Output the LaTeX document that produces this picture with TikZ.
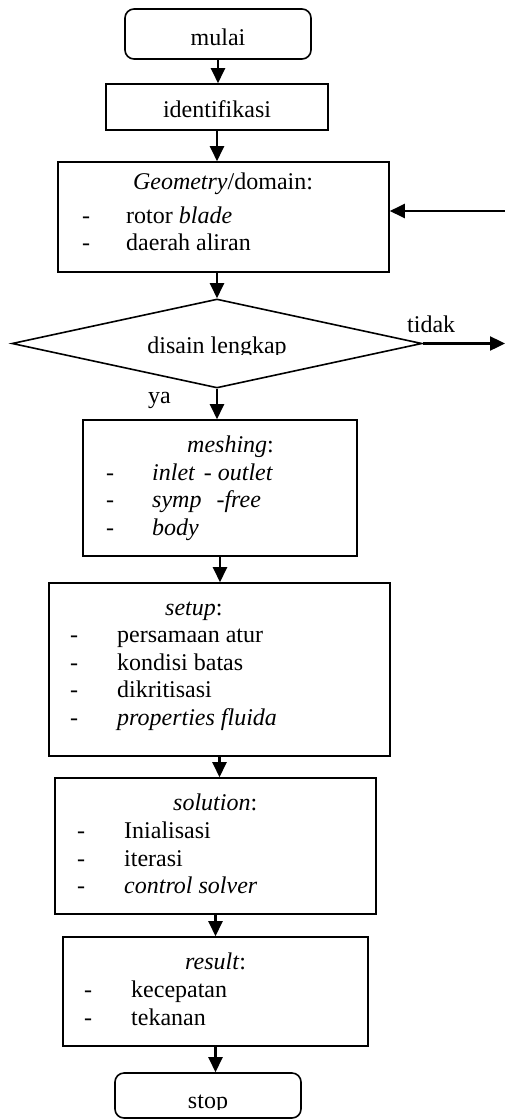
\documentclass[tikz,border=0pt]{standalone}
\usepackage{fontspec}
\setmainfont{Liberation Serif}
\usetikzlibrary{arrows.meta,shapes.geometric}
\begin{document}
\begin{tikzpicture}[x=1pt,y=-1pt,
  font=\fontsize{24}{27.6}\selectfont,
  box/.style={draw, line width=1.6pt, inner sep=0pt},
  rbox/.style={box, rounded corners=9pt},
  txt/.style={inner sep=0pt, anchor=base west},
  ctxt/.style={inner sep=0pt, anchor=base},
  arr/.style={-{Triangle[length=15pt,width=14pt]}, line width=2.4pt}]
\useasboundingbox (0,0) rectangle (505,1119);
% boxes
\node[rbox, minimum width=186pt, minimum height=50pt] (mulai) at (218,34) {};
\node[box, minimum width=222pt, minimum height=46pt] (ident) at (217,107) {};
\node[box, minimum width=331pt, minimum height=110pt] (geo) at (223.5,217) {};
\node[draw, diamond, line width=1.6pt, inner sep=0pt, minimum width=410pt, minimum height=89pt] (dia) at (217,343.5) {};
\node[box, minimum width=274pt, minimum height=136pt] (mesh) at (220,488) {};
\node[box, minimum width=341pt, minimum height=173pt] (setup) at (219.5,669.5) {};
\node[box, minimum width=321pt, minimum height=136pt] (sol) at (215.5,846) {};
\node[box, minimum width=305pt, minimum height=109pt] (res) at (215.5,991.5) {};
\node[rbox, minimum width=186pt, minimum height=45pt] (stop) at (208,1095.5) {};
% texts
\node[ctxt] (tmulai) at (218,45) {mulai};
\node[ctxt] (tident) at (217,117) {identifikasi};
\node[ctxt] (tgeo) at (223,189) {\textit{Geometry}/domain:};
\node[txt] (dg1) at (82,223) {-};
\node[txt] (tg1) at (126,223) {rotor \textit{blade}};
\node[txt] (dg2) at (82,250) {-};
\node[txt] (tg2) at (126,250) {daerah aliran};
\begin{scope}
\clip (100,320) rectangle (340,354);
\node[ctxt] (tdia) at (217,353) {disain lengkap};
\end{scope}
\node[txt] (ttidak) at (407,332) {tidak};
\node[txt] (tya) at (148,403) {ya};
\node[txt] (tmesh) at (187,452) {\textit{meshing}:};
\node[txt] (dm1) at (106,480) {-};
\node[txt] (tm1) at (152,480) {\textit{inlet\hspace{9pt}- outlet}};
\node[txt] (dm2) at (106,507) {-};
\node[txt] (tm2) at (152,507) {\textit{symp\hspace{15pt}-free}};
\node[txt] (dm3) at (106,535) {-};
\node[txt] (tm3) at (152,535) {\textit{body}};
\node[txt] (tsetup) at (165,615) {\textit{setup}:};
\node[txt] (ds1) at (70,642) {-};
\node[txt] (ts1) at (117,642) {persamaan atur};
\node[txt] (ds2) at (70,670) {-};
\node[txt] (ts2) at (117,670) {kondisi batas};
\node[txt] (ds3) at (70,697) {-};
\node[txt] (ts3) at (117,697) {dikritisasi};
\node[txt] (ds4) at (70,725) {-};
\node[txt] (ts4) at (117,725) {\textit{properties fluida}};
\node[txt] (tsol) at (173,810) {\textit{solution}:};
\node[txt] (do1) at (77,838) {-};
\node[txt] (to1) at (124,838) {Inialisasi};
\node[txt] (do2) at (77,866) {-};
\node[txt] (to2) at (124,866) {iterasi};
\node[txt] (do3) at (77,893) {-};
\node[txt] (to3) at (124,893) {\textit{control solver}};
\node[txt] (tres) at (185,969) {\textit{result}:};
\node[txt] (dr1) at (84,997) {-};
\node[txt] (tr1) at (131,997) {kecepatan};
\node[txt] (dr2) at (84,1025) {-};
\node[txt] (tr2) at (131,1025) {tekanan};
\begin{scope}
\clip (150,1080) rectangle (270,1109);
\node[ctxt] (tstop) at (208,1108) {stop};
\end{scope}
% connectors
\coordinate (fb) at (505,211);
\coordinate (out) at (505,345);
\draw[arr] (mulai.south) -- (mulai.south |- ident.north);
\draw[arr] (ident.south) -- (ident.south |- geo.north);
\draw[arr] (dia.north |- geo.south) -- (dia.north);
\draw[arr] (dia.south) -- (dia.south |- mesh.north);
\draw[arr] (mesh.south) -- (mesh.south |- setup.north);
\draw[arr] (setup.south) -- (setup.south |- sol.north);
\draw[arr] (sol.south) -- (sol.south |- res.north);
\draw[arr] (res.south) -- (res.south |- stop.north);
\draw[arr] (fb) -- (geo.east |- fb);
\draw[arr] (dia.east) -- (dia.east -| out);
\end{tikzpicture}
\end{document}
